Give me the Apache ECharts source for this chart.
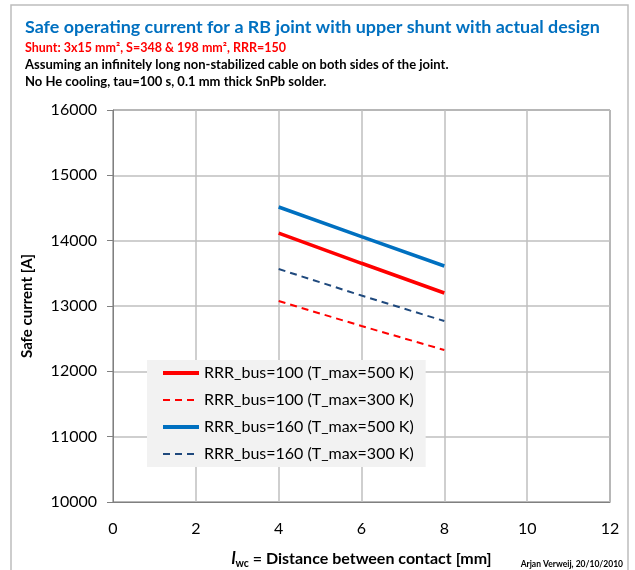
<!DOCTYPE html>
<html><head><meta charset="utf-8">
<script src="https://cdn.jsdelivr.net/npm/echarts@6/dist/echarts.min.js"></script>
<style>html,body{margin:0;padding:0;background:#fff}#c{width:635px;height:570px}</style>
</head><body><div id="c"></div>
<script>
var xValues = [4, 6, 8];
var rrr100_500 = [14117, 13654, 13199];
var rrr100_300 = [13076, 12694, 12326];
var rrr160_500 = [14515, 14061, 13612];
var rrr160_300 = [13566, 13160, 12770];
var seriesNames = ['RRR_bus=100 (T_max=500 K)', 'RRR_bus=100 (T_max=300 K)', 'RRR_bus=160 (T_max=500 K)', 'RRR_bus=160 (T_max=300 K)'];

function pairs(ys){ return xValues.map(function(x,i){return [x, ys[i]];}); }
var F = 'Lato, "Open Sans", sans-serif';
var legendWidths = [4, 2.2, 4, 2.2];
var chart = echarts.init(document.getElementById('c'));
chart.setOption({
  animation: false,
  backgroundColor: '#fff',
  title: [
    {text: 'Safe operating current for a RB joint with upper shunt with actual design', left: 20, top: 13,
     textStyle: {fontFamily: F, fontSize: 17.9, fontWeight: 'bold', color: '#0070C0'}},
    {text: 'Shunt: 3x15 mm², S=348 & 198 mm², RRR=150', left: 20, top: 36,
     textStyle: {fontFamily: F, fontSize: 12.5, fontWeight: 'bold', color: '#FF0000'}},
    {text: 'Assuming an infinitely long non-stabilized cable on both sides of the joint.', left: 20, top: 53,
     textStyle: {fontFamily: F, fontSize: 13, fontWeight: 'bold', color: '#000'}},
    {text: 'No He cooling, tau=100 s, 0.1 mm thick SnPb solder.', left: 20, top: 70,
     textStyle: {fontFamily: F, fontSize: 13, fontWeight: 'bold', color: '#000'}},
    {text: 'Arjan Verweij, 20/10/2010', right: 7, top: 555,
     textStyle: {fontFamily: F, fontSize: 8.5, fontWeight: 'bold', color: '#000'}}
  ],
  graphic: [
    {type: 'rect', shape: {x: 11, y: 5, width: 617, height: 570}, style: {fill: 'none', stroke: '#bdbdbd', lineWidth: 1.5}, silent: true}
  ],
  grid: {left: 113, right: 25, top: 110, bottom: 68, outerBoundsMode: 'none', containLabel: false,
         show: true, borderColor: '#404040', borderWidth: 1, backgroundColor: 'transparent'},
  legend: {
    left: 147, top: 360, width: 280, orient: 'vertical', itemGap: 11,
    padding: [5, 12, 5, 14],
    backgroundColor: '#f2f2f2',
    itemWidth: 36, itemHeight: 16,
    itemStyle: {opacity: 0},
    textStyle: {fontFamily: F, fontSize: 16, color: '#000'},
    data: seriesNames.map(function(n, i){ return {name: n, lineStyle: {width: legendWidths[i]}}; })
  },
  xAxis: {
    type: 'value', min: 0, max: 12, interval: 2,
    name: '{i|l}{s|wc}{t| = Distance between contact [mm]}', nameLocation: 'middle', nameGap: 47,
    nameTextStyle: {fontFamily: F, fontSize: 16, fontWeight: 'bold', color: '#000',
      rich: {i: {fontFamily: F, fontSize: 17, fontWeight: 'bold', fontStyle: 'italic', color: '#000'},
             s: {fontFamily: F, fontSize: 10.5, fontWeight: 'bold', color: '#000', verticalAlign: 'bottom', padding: [9,0,0,0]},
             t: {fontFamily: F, fontSize: 16, fontWeight: 'bold', color: '#000'}}},
    axisLine: {show: true, onZero: false, lineStyle: {color: '#808080'}},
    axisTick: {show: false},
    axisLabel: {fontFamily: F, fontSize: 16, color: '#000', margin: 19},
    splitLine: {show: true, lineStyle: {color: '#bfbfbf', width: 1.5}}
  },
  yAxis: {
    type: 'value', min: 10000, max: 16000, interval: 1000,
    name: 'Safe current [A]', nameLocation: 'middle', nameGap: 78,
    nameTextStyle: {fontFamily: F, fontSize: 15, fontWeight: 'bold', color: '#000'},
    axisLine: {show: true, lineStyle: {color: '#808080'}},
    axisTick: {show: true, length: 6, inside: false, lineStyle: {color: '#808080'}},
    axisLabel: {fontFamily: F, fontSize: 16, color: '#000', margin: 16, formatter: function(v){return String(v);}},
    splitLine: {show: true, lineStyle: {color: '#bfbfbf', width: 1.5}}
  },
  series: [
    {name: seriesNames[0], type: 'line', data: pairs(rrr100_500), showSymbol: false, symbol: 'none',
     lineStyle: {color: '#FF0000', width: 3.5}, itemStyle: {color: '#FF0000'}},
    {name: seriesNames[1], type: 'line', data: pairs(rrr100_300), showSymbol: false, symbol: 'none',
     lineStyle: {color: '#FF0000', width: 2, type: [7, 5]}, itemStyle: {color: '#FF0000'}},
    {name: seriesNames[2], type: 'line', data: pairs(rrr160_500), showSymbol: false, symbol: 'none',
     lineStyle: {color: '#0070C0', width: 3.5}, itemStyle: {color: '#0070C0'}},
    {name: seriesNames[3], type: 'line', data: pairs(rrr160_300), showSymbol: false, symbol: 'none',
     lineStyle: {color: '#1F497D', width: 2, type: [7, 5]}, itemStyle: {color: '#1F497D'}}
  ]
});
</script></body></html>
